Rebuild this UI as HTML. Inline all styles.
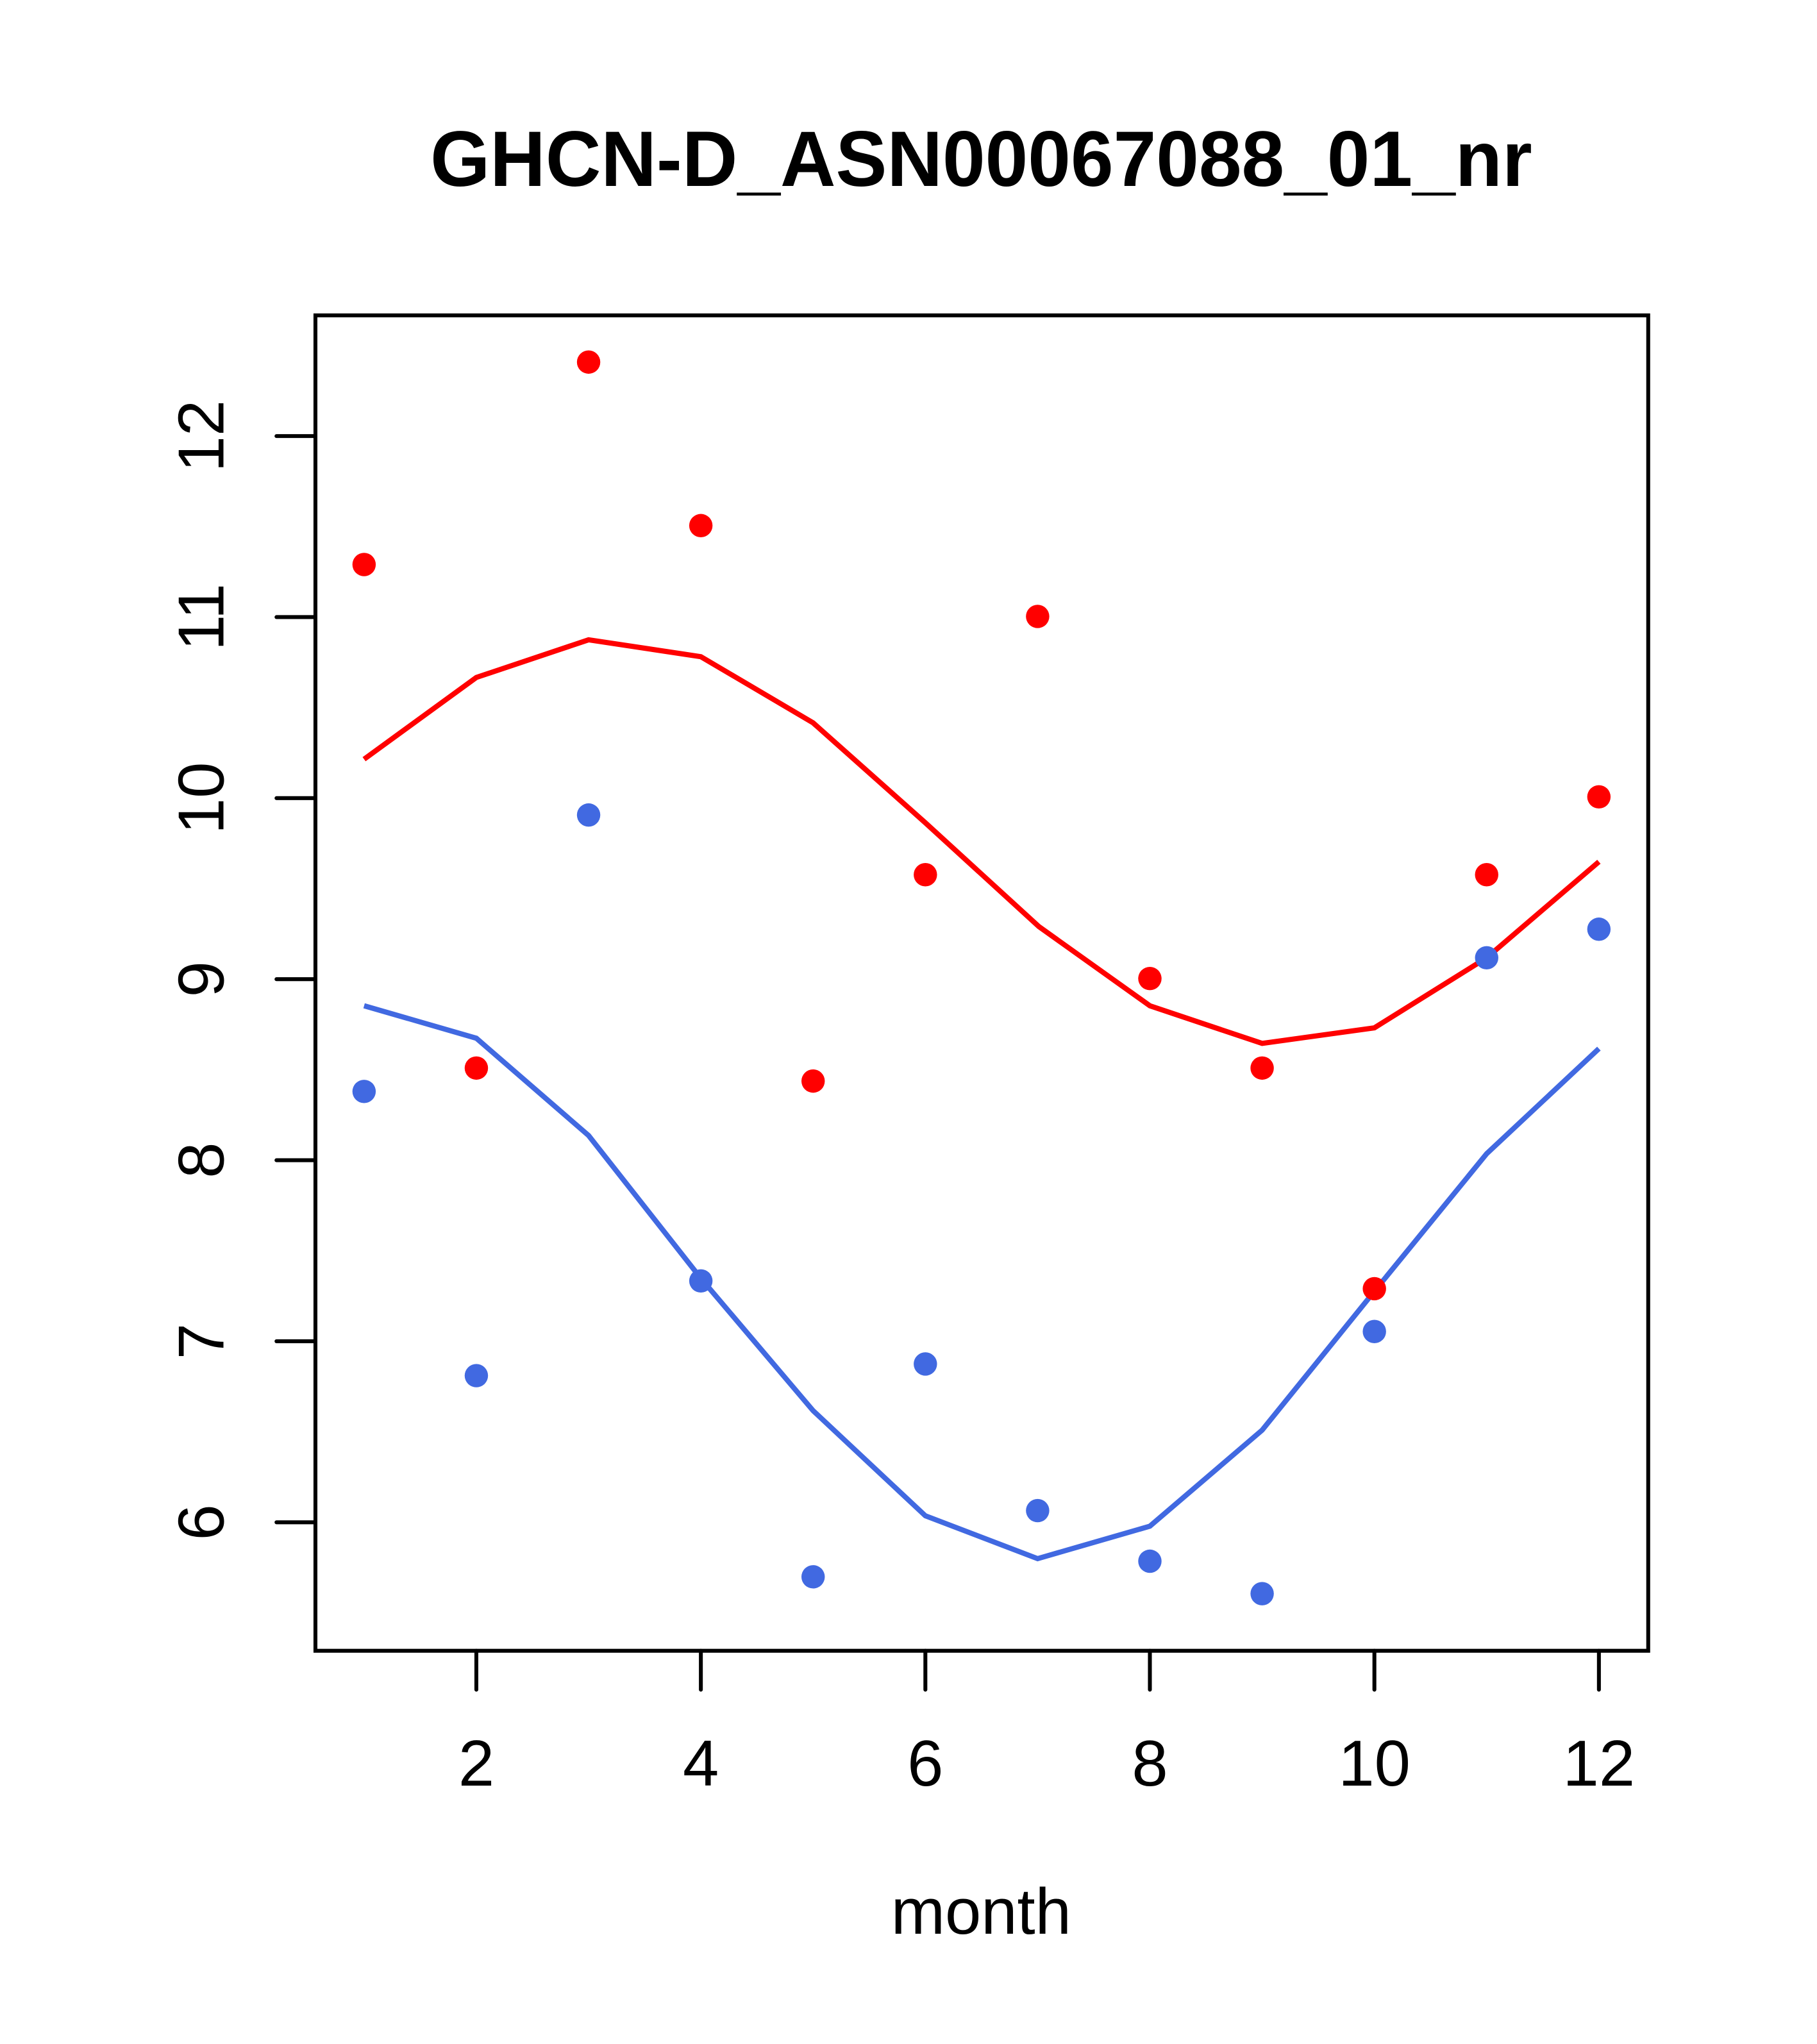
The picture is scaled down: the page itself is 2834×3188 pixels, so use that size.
<!DOCTYPE html>
<html><head><meta charset="utf-8"><style>html,body{margin:0;padding:0;background:#fff}svg{display:block}</style></head>
<body>
<svg width="2834" height="3188" viewBox="0 0 1400 1575" xmlns="http://www.w3.org/2000/svg" font-family="Liberation Sans, sans-serif">
<rect width="1400" height="1575" fill="#fff"/>
<text x="756" y="143.3" font-size="60.5" font-weight="bold" text-anchor="middle" textLength="849" lengthAdjust="spacingAndGlyphs">GHCN-D_ASN00067088_01_nr</text>
<rect x="243" y="243" width="1027" height="1029" fill="none" stroke="#000" stroke-width="3"/>
<g stroke="#000" stroke-width="3" stroke-linecap="round">
<line x1="367" y1="1272" x2="367" y2="1302"/><line x1="540" y1="1272" x2="540" y2="1302"/><line x1="713" y1="1272" x2="713" y2="1302"/><line x1="886" y1="1272" x2="886" y2="1302"/><line x1="1059" y1="1272" x2="1059" y2="1302"/><line x1="1232" y1="1272" x2="1232" y2="1302"/>
<line x1="243" y1="336" x2="213" y2="336"/><line x1="243" y1="475.5" x2="213" y2="475.5"/><line x1="243" y1="615" x2="213" y2="615"/><line x1="243" y1="754.5" x2="213" y2="754.5"/><line x1="243" y1="894" x2="213" y2="894"/><line x1="243" y1="1033.5" x2="213" y2="1033.5"/><line x1="243" y1="1173" x2="213" y2="1173"/>
</g>
<g font-size="50" text-anchor="middle">
<text x="367" y="1376">2</text><text x="540" y="1376">4</text><text x="713" y="1376">6</text><text x="886" y="1376">8</text><text x="1059" y="1376">10</text><text x="1232" y="1376">12</text>
<text transform="translate(172,336) rotate(-90)">12</text>
<text transform="translate(172,475.5) rotate(-90)">11</text>
<text transform="translate(172,615) rotate(-90)">10</text>
<text transform="translate(172,754.5) rotate(-90)">9</text>
<text transform="translate(172,894) rotate(-90)">8</text>
<text transform="translate(172,1033.5) rotate(-90)">7</text>
<text transform="translate(172,1173) rotate(-90)">6</text>
<text x="756" y="1490">month</text>
</g>
<polyline fill="none" stroke="#ff0000" stroke-width="4" points="280.5,585 367,522 453.5,493 540,506 626.5,557 713,634 800.5,714 886,775 972.5,804 1059,792 1145.5,738 1232,664"/>
<polyline fill="none" stroke="#4169e1" stroke-width="4" points="280.5,775 367,800 453.5,875 540,985 626.5,1087 713,1168 799.5,1201 886,1176 972.5,1102 1059,995 1145.5,889 1232,808"/>
<g fill="#ff0000">
<circle cx="280.5" cy="435" r="9"/><circle cx="367" cy="823" r="9"/><circle cx="453.5" cy="279" r="9"/><circle cx="540" cy="405" r="9"/><circle cx="626.5" cy="833" r="9"/><circle cx="713" cy="674" r="9"/><circle cx="799.5" cy="475" r="9"/><circle cx="886" cy="754" r="9"/><circle cx="972.5" cy="823" r="9"/><circle cx="1059" cy="993" r="9"/><circle cx="1145.5" cy="674" r="9"/><circle cx="1232" cy="614" r="9"/>
</g>
<g fill="#4169e1">
<circle cx="280.5" cy="841" r="9"/><circle cx="367" cy="1060" r="9"/><circle cx="453.5" cy="628" r="9"/><circle cx="540" cy="987" r="9"/><circle cx="626.5" cy="1215" r="9"/><circle cx="713" cy="1051" r="9"/><circle cx="799.5" cy="1164" r="9"/><circle cx="886" cy="1203" r="9"/><circle cx="972.5" cy="1228" r="9"/><circle cx="1059" cy="1026" r="9"/><circle cx="1145.5" cy="738" r="9"/><circle cx="1232" cy="716" r="9"/>
</g>
</svg>
</body></html>
